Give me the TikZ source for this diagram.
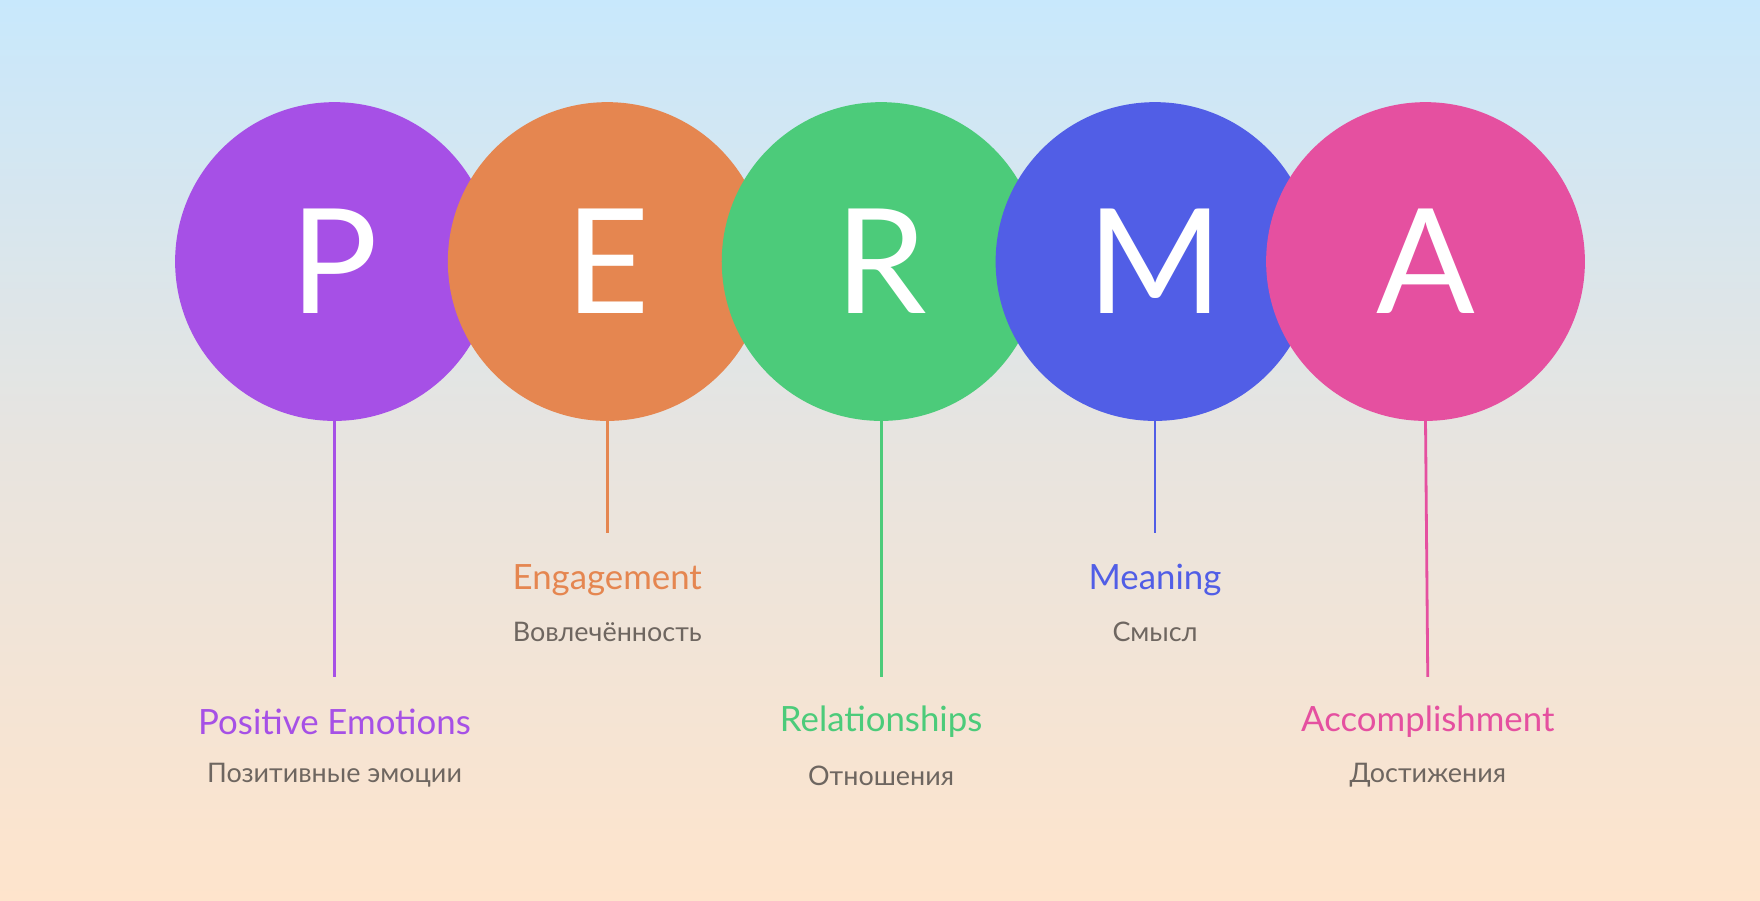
\documentclass[tikz,border=0pt]{standalone}
\usepackage{fontspec}
\setmainfont{Lato}
\definecolor{pcol}{RGB}{166,80,230}
\definecolor{ecol}{RGB}{229,134,80}
\definecolor{rcol}{RGB}{76,203,122}
\definecolor{mcol}{RGB}{81,94,230}
\definecolor{acol}{RGB}{229,80,160}
\definecolor{subcol}{RGB}{110,102,96}
\tikzset{letter/.style={circle,minimum size=284pt,inner sep=0pt,text=white,font=\fontsize{130}{130}\selectfont}}
\tikzset{stem/.style={line width=2.5pt}}
\tikzset{title/.style={font=\fontsize{31}{31}\selectfont}}
\tikzset{subtitle/.style={text=subcol,font=\fontsize{24}{24}\selectfont}}
\begin{document}
\begin{tikzpicture}[x=1pt,y=-1pt]
\shade [top color={rgb,255:red,200;green,232;blue,252}, bottom color={rgb,255:red,254;green,228;blue,204}, middle color={rgb,255:red,232;green,228;blue,223}] (0,0) rectangle (1568,802);
\useasboundingbox (0,0) rectangle (1568,802);

\node [letter,fill=pcol] (p) at (298,233) {P};
\node [letter,fill=ecol] (e) at (541,233) {E};
\node [letter,fill=rcol] (r) at (785,233) {R};
\node [letter,fill=mcol] (m) at (1029,233) {M};
\node [letter,fill=acol] (a) at (1270,233) {A};

\coordinate (pe) at (298,603);
\coordinate (ee) at (541,475);
\coordinate (re) at (785,603);
\coordinate (me) at (1029,475);
\coordinate (ae) at (1272,603);

\draw [pcol,stem] (p.south) -- (pe);
\draw [ecol,stem] (e.south) -- (ee);
\draw [rcol,stem] (r.south) -- (re);
\draw [mcol,stem] (m.south) -- (me);
\draw [acol,stem] (a.south) -- (ae);

\node [title,text=pcol] (pt) at (298,643) {Positive Emotions};
\node [subtitle] (ps) at (298,691) {Позитивные эмоции};
\node [title,text=ecol] (et) at (541,517) {Engagement};
\node [subtitle] (es) at (541,563) {Вовлечённость};
\node [title,text=rcol] (rt) at (785,643) {Relationships};
\node [subtitle] (rs) at (785,691) {Отношения};
\node [title,text=mcol] (mt) at (1029,517) {Meaning};
\node [subtitle] (ms) at (1029,563) {Смысл};
\node [title,text=acol] (at) at (1272,643) {Accomplishment};
\node [subtitle] (as) at (1272,691) {Достижения};
\end{tikzpicture}
\end{document}
